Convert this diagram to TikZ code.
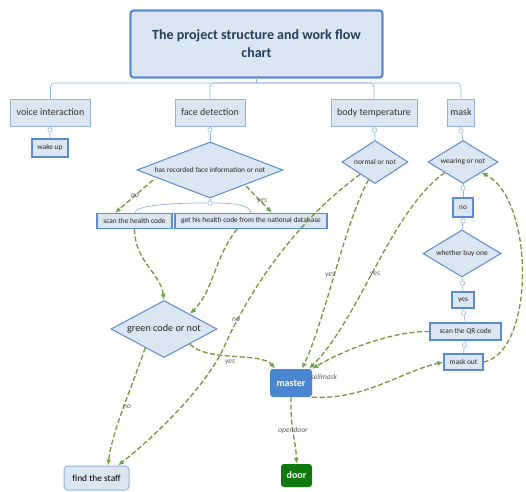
\documentclass[tikz,border=0pt]{standalone}
\usepackage{fontspec}
\setmainfont{Carlito}
\usetikzlibrary{shapes.geometric,arrows.meta}
\definecolor{boxfill}{HTML}{DCE6F2}
\definecolor{lightdraw}{HTML}{95B3D7}
\definecolor{middraw}{HTML}{5B8BD0}
\definecolor{treeline}{HTML}{8DB3E2}
\definecolor{titletext}{HTML}{243F60}
\definecolor{flowline}{HTML}{7A9440}
\definecolor{flowtip}{HTML}{6AA84F}
\definecolor{masterfill}{HTML}{4A86D0}
\definecolor{doorfill}{HTML}{0E7A0E}
\definecolor{labelgray}{HTML}{606060}
\tikzset{
  topbox/.style={draw=lightdraw, line width=0.7pt, fill=boxfill, inner sep=0pt, font=\fontsize{10}{12}\selectfont, text=black!80},
  smallbox/.style={draw=middraw, line width=1.2pt, fill=boxfill, inner sep=0pt, font=\fontsize{7.4}{8}\selectfont, text=black!85},
  dia/.style={diamond, aspect=2.4, draw=middraw, line width=1pt, fill=boxfill, inner sep=0pt, font=\fontsize{7.4}{8}\selectfont, text=black!85},
  knob/.style={circle, draw=treeline, fill=white, line width=0.5pt, minimum size=4.5pt, inner sep=0pt},
  tree/.style={draw=treeline, line width=0.7pt},
  flow/.style={draw=flowline, line width=1.3pt, dash pattern=on 5pt off 2.5pt, -{Latex[length=6pt,width=5pt,color=flowtip]}},
  flowlabel/.style={font=\fontsize{7.6}{8}\selectfont\itshape, text=labelgray, inner sep=1pt},
}
\begin{document}
\begin{tikzpicture}[x=1pt,y=-1pt]
\useasboundingbox (0,0) rectangle (526,491);
% title
\node[draw=middraw, line width=2.2pt, fill=boxfill, rounded corners=3pt, minimum width=252pt, minimum height=67pt, inner sep=0pt, align=center, text=titletext, font=\fontsize{14}{18}\selectfont\bfseries] (title) at (256.5,44) {The project structure and work flow\\chart};
% top level
\node[topbox, minimum width=80pt, minimum height=27pt] (voice) at (50.5,112.5) {voice interaction};
\node[topbox, minimum width=70pt, minimum height=27pt] (face) at (210,112.5) {face detection};
\node[topbox, minimum width=86pt, minimum height=27pt] (temp) at (374,112.5) {body temperature};
\node[topbox, minimum width=27pt, minimum height=27pt] (mask) at (461,112.5) {mask};
\coordinate (bus) at (256.5,83);
\draw[tree] (title.south) -- (bus);
\draw[tree, rounded corners=4pt] (voice.north) |- (bus) -| (mask.north);
\draw[tree, rounded corners=4pt] (face.north) |- (bus);
\draw[tree, rounded corners=4pt] (temp.north) |- (bus);
% second level
\node[smallbox, minimum width=36pt, minimum height=18pt] (wake) at (50,148) {wake up};
\node[dia, minimum width=146pt, minimum height=56pt] (facedia) at (210,170) {has recorded face information or not};
\node[dia, minimum width=66pt, minimum height=43pt] (tempdia) at (375,162) {normal or not};
\node[dia, minimum width=70pt, minimum height=43pt] (weardia) at (463,162) {wearing or not};
\node[smallbox, minimum width=75pt, minimum height=15pt] (scanhc) at (134.5,221) {scan the health code};
\node[smallbox, minimum width=152pt, minimum height=15pt] (gethc) at (251,221) {get his health code from the national database};
\node[smallbox, minimum width=20pt, minimum height=19pt] (nobox) at (463,207.5) {no};
\node[dia, minimum width=78pt, minimum height=47pt] (buydia) at (462,253.5) {whether buy one};
\node[smallbox, minimum width=22pt, minimum height=16pt] (yesbox) at (463,300) {yes};
\node[smallbox, minimum width=71pt, minimum height=17pt] (qr) at (465.5,331.5) {scan the QR code};
\node[smallbox, minimum width=39pt, minimum height=16pt] (maskout) at (463.5,362) {mask out};
\node[dia, aspect=1.9, minimum width=106pt, minimum height=57pt, font=\fontsize{10.2}{11}\selectfont] (greendia) at (164,329) {green code or not};
\node[fill=masterfill, rounded corners=3pt, minimum width=42pt, minimum height=28pt, inner sep=0pt, text=white, font=\fontsize{10}{12}\selectfont\bfseries] (master) at (291,383) {master};
\node[fill=doorfill, rounded corners=3pt, minimum width=31pt, minimum height=23pt, inner sep=0pt, text=white, font=\fontsize{10}{12}\selectfont\bfseries] (door) at (296.5,475.5) {door};
\node[draw=lightdraw, line width=1pt, fill=boxfill, rounded corners=4pt, minimum width=65pt, minimum height=24pt, inner sep=0pt, font=\fontsize{9.4}{11}\selectfont] (staff) at (96.5,478) {find the staff};
% knobs and tree lines
\node[knob] (k1) at (50,130) {};
\node[knob] (k2) at (210,130) {};
\node[knob] (k3) at (374.5,130) {};
\node[knob] (k4) at (461,131) {};
\node[knob] (k5) at (210,203) {};
\node[knob] (k6) at (463,188) {};
\node[knob] (k7) at (463,221) {};
\node[knob] (k8) at (462.5,283) {};
\node[knob] (k9) at (463.5,313) {};
\node[knob] (k10) at (464.5,345) {};
\draw[tree] (voice.south) -- (k1) -- (wake.north);
\draw[tree] (face.south) -- (k2) -- (facedia.north);
\draw[tree] (temp.south) -- (k3) -- (tempdia.north);
\draw[tree] (mask.south) -- (k4) -- (weardia.north);
\draw[tree] (facedia.south) -- (k5);
\draw[tree] (k5.west) .. controls (170,203) and (137,205) .. (scanhc.north);
\draw[tree] (k5.east) .. controls (235,203) and (250,205) .. (gethc.north);
\draw[tree] (weardia.south) -- (k6) -- (nobox.north);
\draw[tree] (nobox.south) -- (k7) -- (buydia.north);
\draw[tree] (buydia.south) -- (k8) -- (yesbox.north);
\draw[tree] (yesbox.south) -- (k9) -- (qr.north);
\draw[tree] (qr.south) -- (k10) -- (maskout.north);
% flow arrows
\coordinate (s1) at (153,180);
\coordinate (s2) at (246,186);
\draw[flow] (s1) -- (scanhc.north -| 115,0);
\node[flowlabel] (lno1) at (135,196) {no};
\draw[flow] (s2) -- (gethc.north -| 272,0);
\node[flowlabel] (lyes1) at (262,201) {yes};
\draw[flow] (scanhc.south) .. controls (135,262) and (160,272) .. (greendia.north);
\draw[flow] (gethc.south -| 237,0) .. controls (214,258) and (214,290) .. (greendia.30);
\draw[flow] (greendia.-30) .. controls (205,362) and (262,352) .. (master.north -| 275,0);
\node[flowlabel] (lyes2) at (230,362) {yes};
\draw[flow] (greendia.-135) .. controls (130,392) and (112,432) .. (staff.north -| 108,0);
\node[flowlabel] (lno2) at (127,407) {no};
\draw[flow] (tempdia.-140) .. controls (290,225) and (245,300) .. (225,345) .. controls (205,390) and (150,440) .. (staff.north -| 118,0);
\node[flowlabel] (lno3) at (236,320) {no};
\draw[flow] (tempdia.-110) .. controls (345,222) and (325,320) .. (master.north -| 302,0);
\node[flowlabel] (lyes3) at (330,275) {yes};
\draw[flow] (weardia.-150) .. controls (390,212) and (360,318) .. (master.north -| 309,0);
\node[flowlabel] (lyes4) at (375,274) {yes};
\draw[flow] (qr.west) .. controls (390,331) and (340,352) .. (master.north east);
\node[flowlabel] (lsell) at (324,377) {sellmask};
\draw[flow] (master.south east) .. controls (365,400) and (400,372) .. (maskout.west);
\draw[flow] (maskout.east) .. controls (535,352) and (535,200) .. (weardia.-30);
\draw[flow] (master.south) .. controls (290,430) and (296,440) .. (door.north);
\node[flowlabel] (lopen) at (293,430) {opendoor};
\end{tikzpicture}
\end{document}
